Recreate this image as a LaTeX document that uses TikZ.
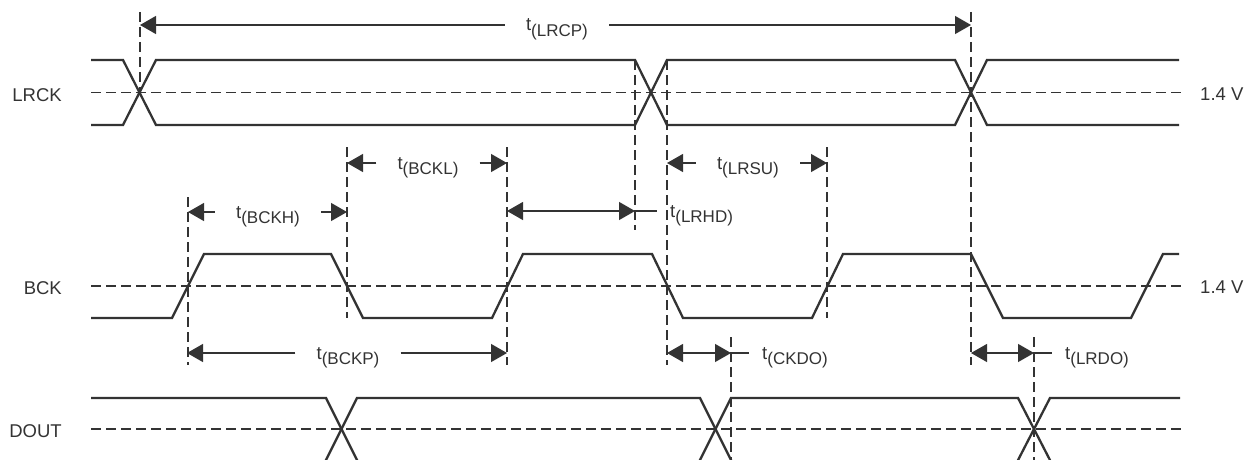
\documentclass[tikz,border=0pt]{standalone}
\usepackage{fontspec}
\setmainfont{Liberation Sans}
\usetikzlibrary{arrows.meta}
\definecolor{ink}{HTML}{333333}
\newcommand\tsub[1]{t\raisebox{-5.5pt}{\fontsize{17}{18}\selectfont(#1)}}
\tikzset{
  sig/.style={ink, line width=2.3pt, line join=miter},
  ref/.style={ink, line width=1.1pt, dash pattern=on 10pt off 5pt},
  dim/.style={ink, line width=1.2pt},
  arr/.style={dim, -{Triangle[length=16pt,width=18pt]}},
  darr/.style={dim, {Triangle[length=16pt,width=18pt]}-{Triangle[length=16pt,width=18pt]}},
  lbl/.style={text=ink, font=\fontsize{18.5}{20}\selectfont, inner sep=0pt},
  tlbl/.style={lbl, inner xsep=21pt},
  tlblr/.style={lbl, inner xsep=13pt, anchor=base west},
}
\begin{document}
\begin{tikzpicture}[x=1pt,y=-1pt]
\clip (0,0) rectangle (1244,460);
\useasboundingbox (0,0) rectangle (1244,460);

% signal names
\node[lbl, anchor=east] (nlrck) at (62,95.5) {LRCK};
\node[lbl, anchor=east] (nbck) at (62,288) {BCK};
\node[lbl, anchor=east] (ndout) at (62,431.5) {DOUT};
\node[lbl, anchor=west] (v1) at (1200,94) {1.4 V};
\node[lbl, anchor=west] (v2) at (1200,287.5) {1.4 V};

% reference (1.4 V) lines
\coordinate (r1a) at (91,92.5); \coordinate (r1b) at (1182,92.5);
\coordinate (r2a) at (91,286); \coordinate (r2b) at (1182,286);
\coordinate (r3a) at (91,429); \coordinate (r3b) at (1182,429);
\draw[ref] (r1a) -- (r1b);
\draw[ref] (r2a) -- (r2b);
\draw[ref] (r3a) -- (r3b);

% vertical guide lines
\foreach \n/\x/\ya/\yb in {g140/140/12/92, g635/635/60/230, g667/667/60/365,
  g971/971/12/365, g188/188/197/365, g347/347/147/318, g507/507/147/365,
  g827/827/147/318, g731/731/337/460, g1034/1034/337/460}{
  \coordinate (\n a) at (\x,\ya);
  \coordinate (\n b) at (\x,\yb);
  \draw[ref] (\n a) -- (\n b);
}

% LRCK
\draw[sig] (91,60) -- (123,60) -- (156,125) -- (635,125) -- (667,60) -- (955,60) -- (987,125) -- (1179,125);
\draw[sig] (91,125) -- (123,125) -- (156,60) -- (635,60) -- (667,125) -- (955,125) -- (987,60) -- (1179,60);

% BCK
\draw[sig] (91,318) -- (172,318) -- (204,254) -- (331,254) -- (363,318) -- (492,318)
  -- (523,254) -- (652,254) -- (683,318) -- (812,318) -- (843,254) -- (971,254)
  -- (1003,318) -- (1131,318) -- (1163,254) -- (1179,254);

% DOUT
\draw[sig] (91,398) -- (326,398) -- (359,464);
\draw[sig] (324,464) -- (357,398) -- (700,398) -- (733,464);
\draw[sig] (698,464) -- (731,398) -- (1018,398) -- (1052,464);
\draw[sig] (1016,464) -- (1050,398) -- (1180,398);

% t(LRCP)
\coordinate (lrcpL) at (140,25); \coordinate (lrcpR) at (971,25);
\node[tlbl, anchor=base] (lrcp) at (557,31) {\tsub{LRCP}};
\draw[arr] (lrcp.west |- lrcpL) -- (lrcpL);
\draw[arr] (lrcp.east |- lrcpR) -- (lrcpR);

% t(BCKL)
\coordinate (bcklL) at (347,163); \coordinate (bcklR) at (507,163);
\node[tlbl, anchor=base] (bckl) at (428,169) {\tsub{BCKL}};
\draw[arr] (bckl.west |- bcklL) -- (bcklL);
\draw[arr] (bckl.east |- bcklR) -- (bcklR);

% t(LRSU)
\coordinate (lrsuL) at (667,163); \coordinate (lrsuR) at (827,163);
\node[tlbl, anchor=base] (lrsu) at (748,169) {\tsub{LRSU}};
\draw[arr] (lrsu.west |- lrsuL) -- (lrsuL);
\draw[arr] (lrsu.east |- lrsuR) -- (lrsuR);

% t(BCKH)
\coordinate (bckhL) at (188,212); \coordinate (bckhR) at (347,212);
\node[tlbl, anchor=base] (bckh) at (268,218) {\tsub{BCKH}};
\draw[arr] (bckh.west |- bckhL) -- (bckhL);
\draw[arr] (bckh.east |- bckhR) -- (bckhR);

% t(LRHD)
\coordinate (lrhdL) at (507,211); \coordinate (lrhdR) at (635,211);
\node[tlblr] (lrhd) at (657,217) {\tsub{LRHD}};
\draw[darr] (lrhdL) -- (lrhdR);
\draw[dim] (lrhdR) -- (lrhd.west |- lrhdR);

% t(BCKP)
\coordinate (bckpL) at (187,353); \coordinate (bckpR) at (507,353);
\node[tlbl, anchor=base] (bckp) at (348,359) {\tsub{BCKP}};
\draw[arr] (bckp.west |- bckpL) -- (bckpL);
\draw[arr] (bckp.east |- bckpR) -- (bckpR);

% t(CKDO)
\coordinate (ckdoL) at (667,353); \coordinate (ckdoR) at (731,353);
\node[tlblr] (ckdo) at (749,359) {\tsub{CKDO}};
\draw[darr] (ckdoL) -- (ckdoR);
\draw[dim] (ckdoR) -- (ckdo.west |- ckdoR);

% t(LRDO)
\coordinate (lrdoL) at (971,353); \coordinate (lrdoR) at (1034,353);
\node[tlblr] (lrdo) at (1052,359) {\tsub{LRDO}};
\draw[darr] (lrdoL) -- (lrdoR);
\draw[dim] (lrdoR) -- (lrdo.west |- lrdoR);
\end{tikzpicture}
\end{document}
